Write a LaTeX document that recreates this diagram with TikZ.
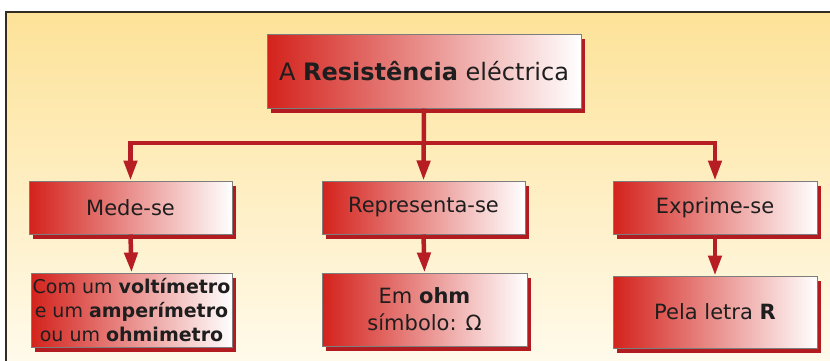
\documentclass[tikz,border=0pt]{standalone}
\usepackage{fontspec}
\setmainfont{DejaVu Sans}
\usetikzlibrary{arrows.meta,shadows}
\definecolor{bgtop}{RGB}{253,226,152}
\definecolor{bgbot}{RGB}{255,251,238}
\definecolor{boxred}{RGB}{212,34,28}
\definecolor{boxmid}{RGB}{236,160,140}
\definecolor{shadred}{RGB}{178,28,32}
\definecolor{linered}{RGB}{182,30,36}
\definecolor{txt}{RGB}{30,30,30}
\tikzset{
  box/.style={rectangle, draw={rgb,255:red,125;green,125;blue,125}, line width=1pt,
    left color=boxred, middle color=boxmid, right color=white,
    inner sep=0pt, align=center, text=txt,
    drop shadow={shadow xshift=4pt, shadow yshift=-5pt, fill=shadred, opacity=1}},
  conn/.style={line width=4.5pt, draw=linered},
  arr/.style={conn, -{Triangle[width=13pt,length=20pt,fill=linered]}}
}
\begin{document}
\begin{tikzpicture}[x=1pt,y=-1pt]
\useasboundingbox (0,0) rectangle (830,360);
\shade[top color=bgtop, bottom color=bgbot] (6,12) rectangle (845,375);
\draw[line width=1.5pt, color={rgb,255:red,50;green,45;blue,35}] (6,375) -- (6,12) -- (845,12);

\node[box, minimum width=314pt, minimum height=74pt, font=\fontsize{24}{28}\selectfont]
  (top) at (424,71) {A \textbf{Resistência} eléctrica};

\node[box, minimum width=203pt, minimum height=53pt, font=\fontsize{21}{24}\selectfont]
  (mede) at (130.5,207.5) {Mede-se};
\node[box, minimum width=203pt, minimum height=53pt, font=\fontsize{21}{24}\selectfont]
  (repr) at (423.5,207.5) {Representa-se};
\node[box, minimum width=204pt, minimum height=53pt, font=\fontsize{21}{24}\selectfont]
  (expr) at (715,207.5) {Exprime-se};

\node[box, minimum width=201pt, minimum height=74pt, font=\fontsize{19}{24}\selectfont]
  (com) at (131.5,310) {Com um \textbf{voltímetro}\\e um \textbf{amperímetro}\\ou um \textbf{ohmimetro}};
\node[box, minimum width=205pt, minimum height=73pt, font=\fontsize{21}{27}\selectfont]
  (ohm) at (424.5,309.5) {Em \textbf{ohm}\\símbolo: Ω};
\node[box, minimum width=204pt, minimum height=72pt, font=\fontsize{21}{24}\selectfont]
  (pela) at (715,312) {Pela letra \textbf{R}};

\coordinate (j) at (top.south |- 0,143);
\draw[arr] (top.south) -- (repr.north);
\draw[arr] (j) -| (mede.north);
\draw[arr] (j) -| (expr.north);
\draw[arr] (mede.south) -- (com.north);
\draw[arr] (repr.south) -- (ohm.north);
\draw[arr] (expr.south) -- (pela.north);
\end{tikzpicture}
\end{document}
